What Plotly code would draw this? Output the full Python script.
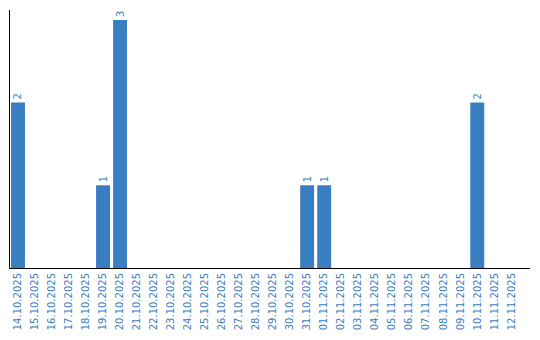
import plotly.graph_objects as go
import pandas as pd

dates = [d.strftime("%d.%m.%Y") for d in pd.date_range("2025-10-14", "2025-11-12")]
counts_map = {"14.10.2025": 2, "19.10.2025": 1, "20.10.2025": 3,
              "31.10.2025": 1, "01.11.2025": 1, "10.11.2025": 2}
values = [counts_map.get(d, 0) for d in dates]
labels = [str(v) if v else "" for v in values]

color = "#3a7ec2"
fig = go.Figure(go.Bar(
    x=list(range(len(dates))), y=values, text=labels,
    textposition="outside", textangle=-90, cliponaxis=False,
    textfont=dict(family="DejaVu Sans", size=10, color=color),
    marker=dict(color=color, line=dict(width=0)), width=0.82,
))
fig.update_layout(
    width=540, height=340, margin=dict(l=10, r=10, t=10, b=70),
    paper_bgcolor="white", plot_bgcolor="white", showlegend=False,
    font=dict(family="DejaVu Sans", size=10, color=color),
)
fig.update_xaxes(range=[-0.47, 30.1], tickmode="array",
                 tickvals=list(range(len(dates))), ticktext=dates,
                 tickangle=-90, ticks="", showgrid=False, zeroline=False,
                 showline=True, linecolor="black", linewidth=1,
                 tickfont=dict(family="DejaVu Sans", size=10, color=color))
fig.update_yaxes(range=[0, 3.12], showticklabels=False, ticks="",
                 showgrid=False, zeroline=False, showline=True,
                 linecolor="black", linewidth=1)
fig.write_html("out.html")
